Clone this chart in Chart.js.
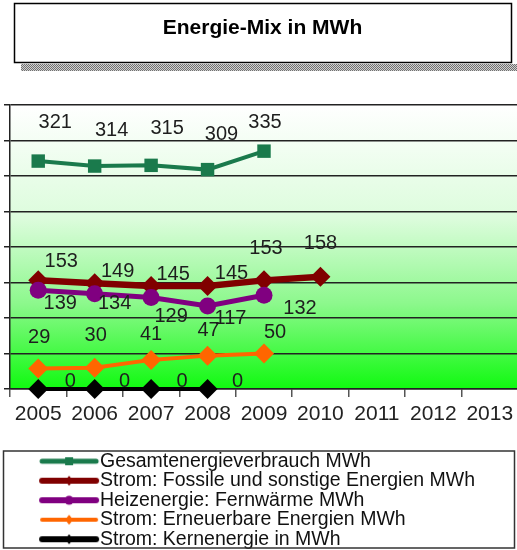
<!DOCTYPE html>
<html>
<head>
<meta charset="utf-8">
<script src="https://cdn.jsdelivr.net/npm/chart.js@4/dist/chart.umd.min.js"></script>
<style>
  html, body { margin: 0; padding: 0; background: #fff; overflow: hidden; }
  #wrap { width: 528px; height: 559px; }
</style>
</head>
<body>
<div id="wrap"><canvas id="chart" width="528" height="559"></canvas></div>
<script>
const years = ['2005', '2006', '2007', '2008', '2009', '2010', '2011', '2012', '2013']
const gesamt = [321, 314, 315, 309, 335, null, null, null, null]
const fossil = [153, 149, 145, 145, 153, 158, null, null, null]
const heizung = [139, 134, 129, 117, 132, null, null, null, null]
const erneuerbar = [29, 30, 41, 47, 50, null, null, null, null]
const kern = [0, 0, 0, 0, null, null, null, null, null]

const FONT = 'Liberation Sans, Arial, sans-serif'

// where each value label sits relative to its marker (px)
const labelShift = [
    [[17, -39], [17, -36], [16, -37], [14, -35], [1, -29]],
    [[23, -19], [23, -12], [22, -12], [24, -13], [2, -32], [0, -33]],
    [[22, 13], [20, 10], [20, 19], [23, 13], [36, 13]],
    [[1, -31], [1, -32], [0, -25], [1, -25], [11, -21]],
    [[32, -8], [30, -8], [31, -8], [30, -8]],
]

function legendIcon(color, width, marker) {
    const c = document.createElement('canvas')
    c.width = 110
    c.height = 20
    const g = c.getContext('2d')
    g.strokeStyle = color
    g.fillStyle = color
    g.lineWidth = width
    g.lineCap = 'round'
    g.beginPath()
    g.moveTo(50, 10)
    g.lineTo(104, 10)
    g.stroke()
    const cx = 77
    g.beginPath()
    if (marker === 'rect') g.rect(cx - 4, 6, 8, 8)
    else if (marker === 'circle') g.arc(cx, 10, 4.5, 0, Math.PI * 2)
    else { g.moveTo(cx - 4, 10); g.lineTo(cx, 5); g.lineTo(cx + 4, 10); g.lineTo(cx, 15); g.closePath() }
    g.fill()
    return c
}

const series = [
    { label: 'Gesamtenergieverbrauch MWh', data: gesamt, color: '#1a7a4c', style: 'rect', radius: 9.5, line: 4, legendLine: 5 },
    { label: 'Strom: Fossile und sonstige Energien MWh', data: fossil, color: '#800000', style: 'rectRot', radius: 10, line: 6.5, legendLine: 6 },
    { label: 'Heizenergie: Fernwärme MWh', data: heizung, color: '#800080', style: 'circle', radius: 8.5, line: 5, legendLine: 6 },
    { label: 'Strom: Erneuerbare Energien MWh', data: erneuerbar, color: '#ff6600', style: 'rectRot', radius: 10, line: 4, legendLine: 4 },
    { label: 'Strom: Kernenergie in MWh', data: kern, color: '#000000', style: 'rectRot', radius: 10, line: 4, legendLine: 6 },
]

const frame = {
    id: 'frame',
    beforeDraw(chart) {
        const c = chart.ctx
        const a = chart.chartArea
        // title box with dotted shadow
        const p = document.createElement('canvas')
        p.width = 2; p.height = 2
        const pg = p.getContext('2d')
        pg.fillStyle = '#d0d0d0'; pg.fillRect(0, 0, 2, 2)
        pg.fillStyle = '#707070'; pg.fillRect(0, 0, 1, 1); pg.fillRect(1, 1, 1, 1)
        c.save()
        c.fillStyle = c.createPattern(p, 'repeat')
        c.fillRect(21, 64, 510, 7)
        c.fillStyle = '#fff'
        c.fillRect(14, 3, 498, 60)
        c.strokeStyle = '#000'
        c.lineWidth = 1.5
        c.strokeRect(14.5, 3.5, 497, 59)
        // plot background
        const grad = c.createLinearGradient(0, a.top, 0, a.bottom)
        grad.addColorStop(0, '#ffffff')
        grad.addColorStop(0.4, '#dcfcdc')
        grad.addColorStop(0.7, '#8cf88c')
        grad.addColorStop(1, '#10fa10')
        c.fillStyle = grad
        c.fillRect(a.left, a.top, a.right - a.left, a.bottom - a.top)
        c.restore()
    },
    afterDraw(chart) {
        const c = chart.ctx
        const lg = chart.legend
        c.save()
        c.strokeStyle = '#333'
        c.lineWidth = 1.5
        c.strokeRect(3.5, lg.top - 0.5, 511, 97)
        c.restore()
    }
}

const valueLabels = {
    id: 'valueLabels',
    afterDatasetsDraw(chart) {
        const c = chart.ctx
        c.save()
        c.font = '20px ' + FONT
        c.fillStyle = '#1e1e1e'
        c.textAlign = 'center'
        c.textBaseline = 'middle'
        chart.data.datasets.forEach((ds, di) => {
            const meta = chart.getDatasetMeta(di)
            meta.data.forEach((pt, i) => {
                const v = ds.data[i]
                if (v === null || v === undefined) return
                const s = labelShift[di][i] || [0, -20]
                c.fillText(String(v), pt.x + s[0], pt.y + s[1])
            })
        })
        c.restore()
    }
}

new Chart(document.getElementById('chart').getContext('2d'), {
    type: 'line',
    data: {
        labels: years,
        datasets: series.map((s, i) => ({
            label: s.label,
            data: s.data,
            borderColor: s.color,
            backgroundColor: s.color,
            borderWidth: s.line,
            pointStyle: s.style,
            pointRadius: s.radius,
            pointHoverRadius: s.radius,
            pointBorderWidth: 0,
            tension: 0,
            clip: false,
            order: series.length - i,
        }))
    },
    options: {
        responsive: false,
        animation: false,
        events: [],
        layout: { padding: { left: 4, right: 7, top: 0, bottom: 0 } },
        scales: {
            x: {
                offset: true,
                grid: { offset: true, drawOnChartArea: false, drawTicks: true, tickLength: 8, color: '#555', lineWidth: 1.5 },
                border: { display: true, color: '#222', width: 1.5 },
                ticks: { color: '#222', font: { size: 21, family: FONT }, padding: 5, maxRotation: 0, autoSkip: false },
                afterFit(scale) { scale.height = 62.5 },
            },
            y: {
                min: 0,
                max: 400,
                ticks: { stepSize: 50, display: false },
                grid: { color: '#222', lineWidth: 1.5, tickLength: 6 },
                border: { display: true, color: '#222', width: 1.5 },
            }
        },
        plugins: {
            title: {
                display: true,
                text: 'Energie-Mix in MWh',
                color: '#000',
                font: { size: 21, weight: 'bold', family: FONT },
                padding: { top: 16, bottom: 63.8 },
            },
            legend: {
                position: 'bottom',
                align: 'start',
                labels: {
                    usePointStyle: true,
                    pointStyleWidth: 86.25,
                    padding: 0,
                    color: '#111',
                    font: { size: 19.5, family: FONT },
                    generateLabels(chart) {
                        return series.map((s, i) => ({
                            text: s.label,
                            pointStyle: legendIcon(s.color, s.legendLine, s.style),
                            fillStyle: s.color,
                            strokeStyle: s.color,
                            lineWidth: 0,
                            fontColor: '#111',
                            hidden: false,
                            datasetIndex: i,
                        }))
                    }
                }
            },
            tooltip: { enabled: false },
        }
    },
    plugins: [frame, valueLabels]
})
</script>
</body>
</html>
